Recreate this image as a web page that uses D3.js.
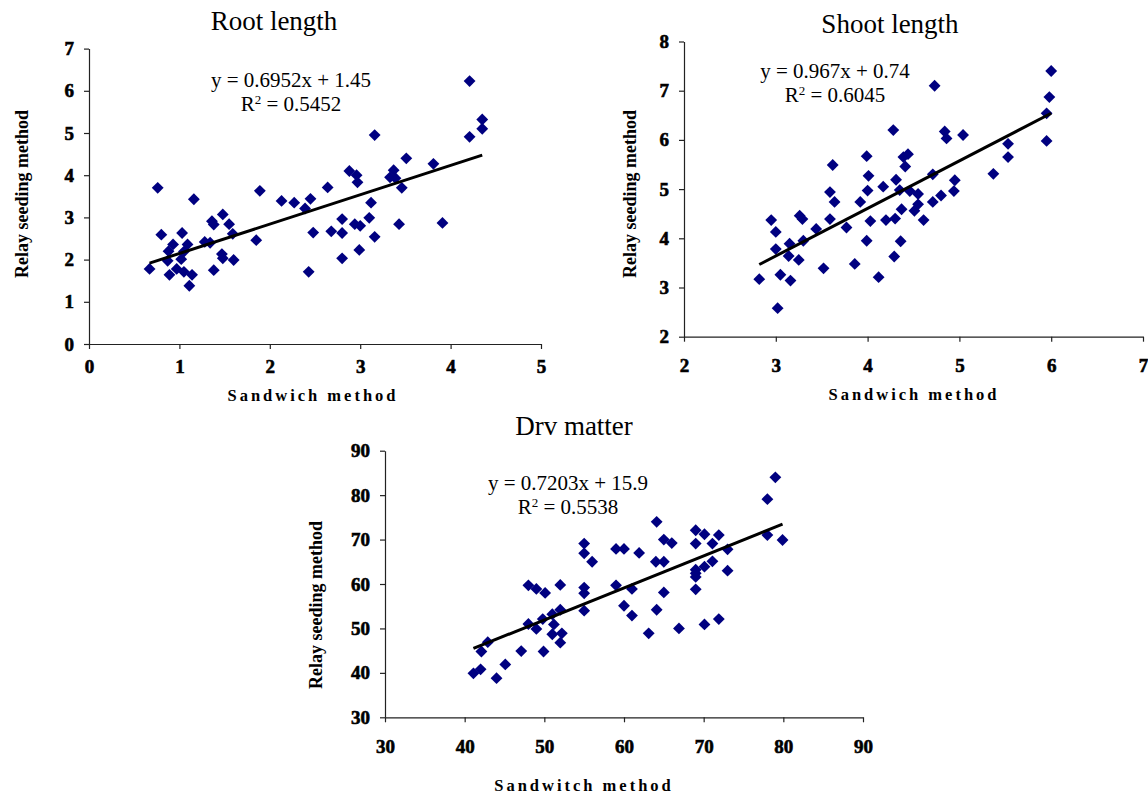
<!DOCTYPE html>
<html>
<head>
<meta charset="utf-8">
<script src="https://cdn.jsdelivr.net/npm/d3@7"></script>
<style>
  body { margin: 0; background: #fff; }
  text { font-family: "Liberation Serif", "Times New Roman", serif; }
  .tick text { font-weight: bold; font-size: 19px; }
</style>
</head>
<body>
<script>
// Root length: sandwich (x) vs relay seeding (y)
var rootSandwich = [0.76, 0.67, 0.80, 1.16, 1.03, 0.93, 0.88, 0.87, 1.09, 1.05, 1.02, 0.97, 0.89, 1.05, 1.14, 1.11,
    1.28, 1.34, 1.36, 1.38, 1.48, 1.55, 1.59, 1.47, 1.48, 1.60, 1.38, 1.89, 1.85, 2.13, 2.27, 2.45, 2.39, 2.48, 2.43,
    4.21, 4.35, 4.35, 4.21, 3.16, 3.51, 3.81, 3.37, 3.33, 3.39, 3.46, 2.88, 2.96, 2.97, 2.64, 3.12, 3.10, 2.80, 2.94,
    3.00, 2.68, 2.80, 3.16, 3.43, 3.91, 2.99, 2.80];
var rootRelay = [3.70, 1.78, 2.59, 3.43, 2.63, 2.36, 2.20, 1.97, 2.36, 2.19, 2.01, 1.78, 1.64, 1.71, 1.64, 1.38,
    2.42, 2.40, 2.91, 2.83, 3.07, 2.84, 2.61, 2.13, 2.03, 1.99, 1.75, 3.63, 2.46, 3.39, 3.35, 3.44, 3.21, 2.64, 1.71,
    6.23, 5.32, 5.10, 4.91, 4.95, 4.40, 4.27, 4.12, 3.95, 3.93, 3.70, 4.10, 4.00, 3.83, 3.71, 3.35, 2.99, 2.96, 2.84,
    2.80, 2.67, 2.63, 2.54, 2.84, 2.87, 2.23, 2.03];

// Shoot length
var shootSandwich = [2.82, 2.95, 3.00, 3.00, 3.02, 3.05, 3.16, 3.15, 3.14, 3.25, 3.26, 3.29, 3.30, 3.44, 3.52, 3.59,
    3.62, 3.64, 3.59, 3.77, 3.86, 3.92, 3.99, 4.01, 4.00, 3.99, 4.03, 4.12, 4.17, 4.20, 6.00, 5.98, 5.95, 5.95, 4.73,
    4.28, 4.84, 4.86, 5.04, 5.53, 5.53, 5.37, 4.39, 4.44, 4.41, 4.31, 4.35, 4.46, 4.55, 4.71, 4.95, 4.94, 4.80, 4.71,
    4.55, 4.51, 4.37, 4.61, 4.30, 4.36, 4.29];
var shootRelay = [3.17, 4.37, 4.13, 3.78, 2.58, 3.26, 3.14, 3.89, 3.64, 3.56, 4.46, 4.39, 3.95, 4.19, 3.39, 4.94,
    5.49, 4.74, 4.39, 4.22, 3.48, 4.74, 5.67, 5.27, 4.97, 3.95, 4.35, 3.21, 5.05, 4.37, 7.40, 6.87, 6.54, 5.98, 7.10,
    6.20, 6.17, 6.03, 6.10, 5.92, 5.65, 5.31, 5.65, 5.71, 5.46, 5.19, 4.98, 4.96, 4.90, 5.30, 5.18, 4.96, 4.87, 4.74,
    4.69, 4.56, 4.59, 4.37, 4.40, 3.94, 3.63];

// Dry matter
var drySandwich = [41.1, 42.0, 42.1, 42.9, 44.0, 45.1, 47.1, 48.0, 49.0, 49.9, 49.8, 48.0, 49.0, 50.1, 51.0, 51.2,
    51.0, 52.2, 52.0, 52.0, 52.0, 55.0, 55.0, 56.0, 55.0, 55.0, 55.0, 59.0, 59.0, 79.0, 78.0, 78.0, 79.9, 64.1, 60.0,
    61.9, 65.0, 66.0, 69.0, 70.1, 71.9, 69.0, 71.1, 73.0, 64.0, 65.0, 69.0, 70.1, 71.1, 73.0, 69.0, 69.0, 61.0, 65.0,
    60.0, 61.0, 64.1, 63.1, 66.9, 70.1, 71.9, 69.0];
var dryRelay = [39.9, 40.8, 44.8, 46.9, 38.8, 41.9, 44.9, 51.0, 49.9, 44.8, 52.1, 59.7, 58.9, 58.0, 53.2, 50.9,
    48.7, 48.9, 46.8, 54.2, 59.8, 69.1, 66.9, 65.0, 59.2, 57.9, 54.0, 67.9, 59.7, 84.0, 79.1, 71.0, 69.9, 74.0, 67.9,
    67.0, 70.0, 69.2, 72.1, 71.2, 71.0, 69.1, 69.1, 67.8, 65.0, 65.0, 63.2, 63.9, 65.1, 63.0, 61.6, 58.8, 58.9, 58.1,
    55.1, 52.9, 54.2, 48.9, 50.0, 50.9, 52.1, 62.4];

// trend line fits [slope, intercept, r2]
var rootFit = [0.6952, 1.45, 0.5452];
var shootFit = [0.967, 0.74, 0.6045];
var dryFit = [0.7203, 15.9, 0.5538];

var rootXTicks = [0, 1, 2, 3, 4, 5], rootYTicks = [0, 1, 2, 3, 4, 5, 6, 7];
var shootXTicks = [2, 3, 4, 5, 6, 7], shootYTicks = [2, 3, 4, 5, 6, 7, 8];
var dryXTicks = [30, 40, 50, 60, 70, 80, 90], dryYTicks = [30, 40, 50, 60, 70, 80, 90];

var svg = d3.select("body").append("svg")
    .attr("width", 1148)
    .attr("height", 794);

var diamond = d3.symbol().type(d3.symbolSquare).size(70);

function drawPanel(p) {
    var x = d3.scaleLinear().domain(d3.extent(p.xTicks)).range(p.xRange);
    var y = d3.scaleLinear().domain(d3.extent(p.yTicks)).range(p.yRange);
    var g = svg.append("g");

    // axes
    var xAxis = g.append("g")
        .attr("transform", "translate(0," + p.yRange[0] + ")")
        .call(d3.axisBottom(x).tickValues(p.xTicks).tickFormat(d3.format("d"))
            .tickSize(5).tickSizeOuter(0).tickPadding(p.xPad));
    var yAxis = g.append("g")
        .attr("transform", "translate(" + p.xRange[0] + ",0)")
        .call(d3.axisLeft(y).tickValues(p.yTicks).tickFormat(d3.format("d"))
            .tickSize(5).tickSizeOuter(0).tickPadding(10));
    [xAxis, yAxis].forEach(function (a) {
        a.attr("font-family", null).attr("font-size", null);
        a.selectAll("path, line").attr("stroke", "#222").attr("stroke-width", 1.2);
        a.selectAll("text")
            .attr("font-family", "Liberation Serif")
            .attr("font-weight", "bold")
            .attr("fill", "#000")
            .attr("stroke", "#000")
            .attr("stroke-width", 0.6);
    });

    // points
    g.selectAll("path.pt")
        .data(p.xs.map(function (v, i) { return [v, p.ys[i]]; }))
        .enter().append("path")
        .attr("class", "pt")
        .attr("d", diamond)
        .attr("fill", "#000080")
        .attr("transform", function (d) {
            return "translate(" + x(d[0]) + "," + y(d[1]) + ") rotate(45)";
        });

    // trend line
    var ext = d3.extent(p.xs);
    g.append("line")
        .attr("x1", x(ext[0])).attr("y1", y(p.fit[0] * ext[0] + p.fit[1]))
        .attr("x2", x(ext[1])).attr("y2", y(p.fit[0] * ext[1] + p.fit[1]))
        .attr("stroke", "#000")
        .attr("stroke-width", 3);

    // title
    g.append("text")
        .attr("x", p.titlePos[0]).attr("y", p.titlePos[1])
        .attr("text-anchor", "middle")
        .style("font-size", "27px")
        .text(p.title);

    // equation + R2
    g.append("text")
        .attr("x", p.eqPos[0]).attr("y", p.eqPos[1])
        .attr("text-anchor", "middle")
        .style("font-size", "21px")
        .text("y = " + p.fit[0] + "x + " + p.fit[1]);
    var r2 = g.append("text")
        .attr("x", p.eqPos[0]).attr("y", p.eqPos[1] + 24)
        .attr("text-anchor", "middle")
        .style("font-size", "21px");
    r2.append("tspan").text("R");
    r2.append("tspan").attr("dy", -7).style("font-size", "13px").text("2");
    r2.append("tspan").attr("dy", 7).text(" = " + p.fit[2]);

    // axis titles
    g.append("text")
        .attr("x", p.xTitlePos[0]).attr("y", p.xTitlePos[1])
        .attr("text-anchor", "middle")
        .style("font-size", "16.5px")
        .style("font-weight", "bold")
        .style("letter-spacing", "3px")
        .text(p.xTitle);
    g.append("text")
        .attr("transform", "translate(" + p.yTitlePos[0] + "," + p.yTitlePos[1] + ") rotate(-90)")
        .attr("text-anchor", "middle")
        .style("font-size", "18px")
        .style("font-weight", "bold")
        .text("Relay seeding method");
}

drawPanel({
    xs: rootSandwich, ys: rootRelay, fit: rootFit,
    xTicks: rootXTicks, yTicks: rootYTicks,
    xRange: [89, 541], yRange: [344, 48.6], xPad: 11,
    title: "Root length", titlePos: [274, 30],
    eqPos: [291, 87],
    xTitle: "Sandwich method", xTitlePos: [313, 401],
    yTitlePos: [28, 194]
});

drawPanel({
    xs: shootSandwich, ys: shootRelay, fit: shootFit,
    xTicks: shootXTicks, yTicks: shootYTicks,
    xRange: [684, 1143], yRange: [336.7, 41.5], xPad: 17,
    title: "Shoot length", titlePos: [890, 33],
    eqPos: [835, 78],
    xTitle: "Sandwich method", xTitlePos: [914, 400],
    yTitlePos: [636, 194]
});

drawPanel({
    xs: drySandwich, ys: dryRelay, fit: dryFit,
    xTicks: dryXTicks, yTicks: dryYTicks,
    xRange: [385, 863], yRange: [717.3, 450.7], xPad: 17,
    title: "Drv matter", titlePos: [574, 435],
    eqPos: [568, 490],
    xTitle: "Sandwitch method", xTitlePos: [584, 791],
    yTitlePos: [322, 605]
});
</script>
</body>
</html>
